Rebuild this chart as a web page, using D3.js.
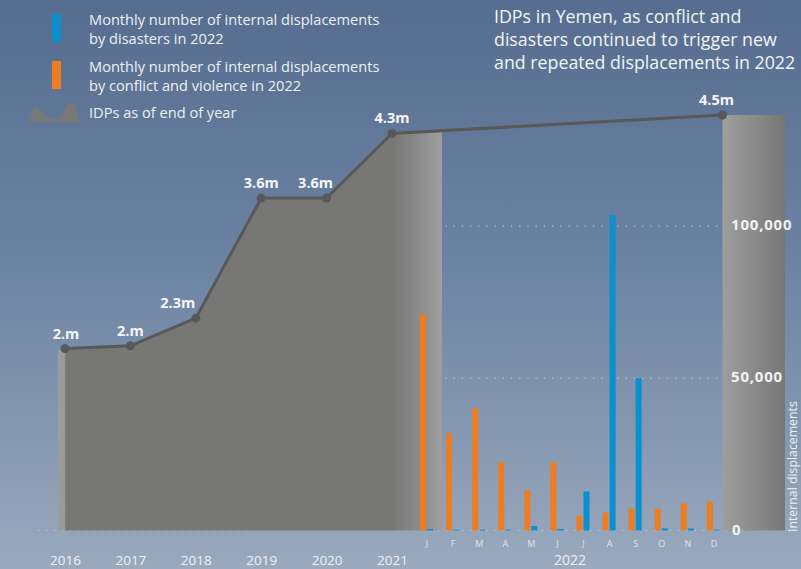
<!DOCTYPE html>
<html>
<head>
<meta charset="utf-8">
<script src="https://cdn.jsdelivr.net/npm/d3@7"></script>
<style>
  html, body { margin: 0; padding: 0; background: #6b809e; }
  svg { display: block; }
  text { font-family: "Open Sans", sans-serif; }
</style>
</head>
<body>
<div id="chart"></div>
<script>
// IDPs at end of year (millions)
const years = [2016, 2017, 2018, 2019, 2020, 2021];
const idpValues = [1.97, 2.0, 2.3, 3.6, 3.6, 4.3];
const idpLabels = ["2.m", "2.m", "2.3m", "3.6m", "3.6m", "4.3m"];
const idp2022 = 4.5;
const idp2022Label = "4.5m";

// monthly displacements in 2022
const months = ["J", "F", "M", "A", "M", "J", "J", "A", "S", "O", "N", "D"];
const conflictValues = [71000, 31900, 40100, 22400, 13200, 22400, 4900, 5900, 7200, 7200, 8900, 9500];
const disasterValues = [500, 300, 300, 300, 1500, 500, 12800, 103600, 50000, 700, 700, 300];
const barTicks = [0, 50000, 100000];

const legendItems = [
  ["Monthly number of internal displacements", "by disasters in 2022"],
  ["Monthly number of internal displacements", "by conflict and violence in 2022"],
  ["IDPs as of end of year"]
];
const titleLines = [
  "IDPs in Yemen, as conflict and",
  "disasters continued to trigger new",
  "and repeated displacements in 2022"
];

const width = 801, height = 569;
const baseY = 530.5;
const blue = "#0a8fcf", orange = "#ee7d22", lineCol = "#585858";

const svg = d3.select("#chart").append("svg")
  .attr("width", width).attr("height", height);

const defs = svg.append("defs");
const bg = defs.append("linearGradient").attr("id", "bg")
  .attr("x1", 0).attr("y1", 0).attr("x2", 0).attr("y2", 1);
bg.append("stop").attr("offset", "0%").attr("stop-color", "#566d8f");
bg.append("stop").attr("offset", "45%").attr("stop-color", "#6b82a2");
bg.append("stop").attr("offset", "100%").attr("stop-color", "#9aa9bd");

const areaGrad = defs.append("linearGradient").attr("id", "areaGrad")
  .attr("gradientUnits", "userSpaceOnUse")
  .attr("x1", 58).attr("y1", 0).attr("x2", 442).attr("y2", 0);
[[0, "#9c9c9c"], [0.018, "#9a9a9a"], [0.02, "#777776"], [0.87, "#777776"], [1, "#9e9e9e"]]
  .forEach(s => areaGrad.append("stop").attr("offset", s[0]).attr("stop-color", s[1]));

const barGrad = defs.append("linearGradient").attr("id", "barGrad")
  .attr("x1", 0).attr("y1", 0).attr("x2", 1).attr("y2", 0);
barGrad.append("stop").attr("offset", "0%").attr("stop-color", "#9e9e9e");
barGrad.append("stop").attr("offset", "100%").attr("stop-color", "#777777");

svg.append("rect").attr("width", width).attr("height", height).attr("fill", "url(#bg)");

// scales
const xYear = d3.scaleLinear().domain([2016, 2021]).range([65, 392]);
const yIdp = d3.scaleLinear().domain([0, 4.5]).range([baseY, 115]);
const xMonth = d3.scaleBand().domain(d3.range(12)).range([414, 727]);
const yBar = d3.scaleLinear().domain([0, 100000]).range([baseY, 226]);
const endBarX0 = 722.5, endBarX1 = 785;

// dotted baseline and grid
svg.append("line")
  .attr("x1", 38).attr("x2", 748).attr("y1", baseY).attr("y2", baseY)
  .attr("stroke", "#c9d1dc").attr("stroke-width", 1.2).attr("stroke-dasharray", "1.2,6.8");
barTicks.filter(t => t > 0).forEach(t => {
  svg.append("line")
    .attr("x1", 388).attr("x2", endBarX0).attr("y1", yBar(t)).attr("y2", yBar(t))
    .attr("stroke", "#c9d1dc").attr("stroke-width", 1.2).attr("stroke-dasharray", "1.2,7");
});

// area of IDPs
const pts = years.map((y, i) => [xYear(y), yIdp(idpValues[i])]);
const endPt = [endBarX0, yIdp(idp2022)];
const last = pts[pts.length - 1];
const extX = 442;
const extY = last[1] + (endPt[1] - last[1]) * (extX - last[0]) / (endPt[0] - last[0]);
const areaPts = [[58, pts[0][1] + 1.5]].concat(pts).concat([[extX, extY + 1]]);
const area = d3.area().x(d => d[0]).y0(baseY).y1(d => d[1]);
svg.append("path").datum(areaPts).attr("d", area).attr("fill", "url(#areaGrad)");

// end of 2022 bar
svg.append("rect")
  .attr("x", endBarX0).attr("y", endPt[1])
  .attr("width", endBarX1 - endBarX0).attr("height", baseY - endPt[1])
  .attr("fill", "url(#barGrad)");

// monthly bars
const g = svg.append("g");
g.selectAll(".conf").data(conflictValues).join("rect")
  .attr("x", (d, i) => xMonth(i) + 6).attr("width", 6)
  .attr("y", d => yBar(d)).attr("height", d => baseY - yBar(d))
  .attr("fill", orange);
g.selectAll(".dis").data(disasterValues).join("rect")
  .attr("x", (d, i) => xMonth(i) + 13).attr("width", 6)
  .attr("y", d => yBar(d)).attr("height", d => baseY - yBar(d))
  .attr("fill", blue);

// IDP line
const linePts = pts.concat([endPt]);
svg.append("path").datum(linePts)
  .attr("d", d3.line())
  .attr("fill", "none").attr("stroke", lineCol).attr("stroke-width", 3);
svg.selectAll(".dot").data(linePts).join("circle")
  .attr("cx", d => d[0]).attr("cy", d => d[1]).attr("r", 4.5).attr("fill", lineCol);

const labelShift = [1, 0, -18, 0, -11, 0, -6];
const allLabels = idpLabels.concat([idp2022Label]);
svg.selectAll(".vlab").data(linePts).join("text")
  .attr("x", (d, i) => d[0] + labelShift[i]).attr("y", d => d[1] - 10)
  .attr("text-anchor", "middle")
  .attr("font-size", 14.5).attr("font-weight", 700).attr("fill", "#f4f6f8")
  .text((d, i) => allLabels[i]);

// year axis
const yearAxis = svg.append("g").attr("transform", "translate(0,552)")
  .call(d3.axisBottom(xYear).tickValues(years).tickFormat(d3.format("d")).tickSize(0));
yearAxis.select(".domain").remove();
yearAxis.selectAll("text").attr("font-size", 13.5).attr("fill", "#eef1f4")
  .attr("font-family", "Open Sans, sans-serif");

svg.append("text").attr("x", 570).attr("y", 565).attr("text-anchor", "middle")
  .attr("font-size", 14).attr("fill", "#eef1f4").text("2022");

// month axis
const monthAxis = svg.append("g").attr("transform", "translate(0,538)")
  .call(d3.axisBottom(xMonth).tickFormat(i => months[i]).tickSize(0));
monthAxis.select(".domain").remove();
monthAxis.selectAll("text").attr("font-size", 9).attr("fill", "#dfe4ea")
  .attr("font-family", "Open Sans, sans-serif");

// right axis labels
svg.selectAll(".ytick").data(barTicks).join("text")
  .attr("x", d => d === 0 ? 732 : 731).attr("y", d => yBar(d) + 4)
  .attr("font-family", "Liberation Serif, serif").attr("font-weight", 700)
  .attr("font-size", 15).attr("letter-spacing", 0.8).attr("fill", "#f2f2f2")
  .text(d => d3.format(",")(d));

svg.append("text")
  .attr("transform", "translate(797,532) rotate(-90)")
  .attr("font-size", 12.3).attr("fill", "#eef1f4")
  .text("Internal displacements");

// legend
const leg = svg.append("g");
leg.append("rect").attr("x", 52).attr("y", 14).attr("width", 9).attr("height", 28).attr("fill", blue);
leg.append("rect").attr("x", 52).attr("y", 61).attr("width", 9).attr("height", 28).attr("fill", orange);
leg.append("path").attr("d", "M29,122 L35,105 L46,117 L58,120 L68,104 L75,104 L80,122 Z").attr("fill", "#787878");
const legY = [25, 72, 118];
legendItems.forEach((lines, i) => {
  lines.forEach((t, j) => {
    leg.append("text").attr("x", 89).attr("y", legY[i] + j * 19)
      .attr("font-size", 14.6).attr("fill", "#edf0f3").text(t);
  });
});

// title
titleLines.forEach((t, i) => {
  svg.append("text").attr("x", 494).attr("y", 23 + i * 23)
    .attr("font-size", 17.8).attr("fill", "#f2f4f6").text(t);
});
</script>
</body>
</html>
